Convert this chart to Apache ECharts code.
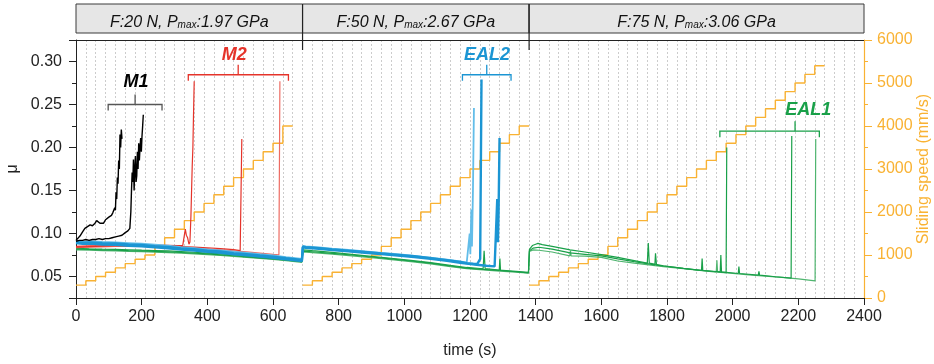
<!DOCTYPE html>
<html><head><meta charset="utf-8">
<script src="https://cdn.jsdelivr.net/npm/echarts@6/dist/echarts.min.js"></script>
<style>html,body{margin:0;padding:0;background:#fff}#c{width:934px;height:364px}</style>
</head><body><div id="c"></div>
<script>
const FONT = 'Liberation Sans';

// ---- header (load stages) ----
const headerStart = [0, 690, 1380];
const headerEnd = [690, 1380, 2400];
const headerForce = ['20', '50', '75'];
const headerPmax = ['1.97', '2.67', '3.06'];

// ---- sliding speed staircase (mm/s) ----
const speedTimes1 = [0,30,60,90,120,150,180,210,240,270,300,330,360,390,420,450,480,510,540,570,600,630,660];
const speedLevels1 = [300,400,500,600,700,800,900,1000,1200,1400,1600,1800,2000,2200,2400,2600,2800,3000,3200,3400,3600,4000];
const speedTimes2 = [690,720,750,780,810,840,870,900,930,960,990,1020,1050,1080,1110,1140,1170,1200,1230,1260,1290,1320,1350,1380];
const speedLevels2 = [300,400,500,600,700,800,900,1000,1200,1400,1600,1800,2000,2200,2400,2600,2800,3000,3200,3400,3600,3800,4000];
const speedTimes3 = [1380,1410,1440,1470,1500,1530,1560,1590,1620,1650,1680,1710,1740,1770,1800,1830,1860,1890,1920,1950,1980,2010,2040,2070,2100,2130,2160,2190,2220,2250,2280];
const speedLevels3 = [300,400,500,600,700,800,900,1000,1200,1400,1600,1800,2000,2200,2400,2600,2800,3000,3200,3400,3600,3800,4000,4200,4400,4600,4800,5000,5200,5400];

// ---- friction coefficient runs ----
// M1 (black)
const m1aTime = [0,5,12,20,27,35,43,50,58,63,68,73,78,84,90,95,100,104,108,112,115,118,120,122,124,126,128,130,132,134,136,138,140];
const m1aMu = [0.092,0.093,0.097,0.102,0.106,0.108,0.110,0.109,0.112,0.115,0.113,0.112,0.113,0.112,0.116,0.117,0.119,0.118,0.121,0.124,0.122,0.130,0.127,0.148,0.140,0.165,0.158,0.185,0.175,0.215,0.200,0.221,0.210];
const m1bTime = [0,10,20,30,40,50,60,70,80,90,100,110,120,130,140,150,158,164,167,169,171,173,175,177,179,181,183,185,187,189,191,193,195,197,199,201,203,205];
const m1bMu = [0.091,0.092,0.092,0.093,0.092,0.093,0.093,0.094,0.093,0.094,0.094,0.095,0.096,0.097,0.098,0.101,0.103,0.106,0.125,0.150,0.171,0.160,0.186,0.150,0.175,0.190,0.160,0.167,0.195,0.175,0.205,0.185,0.200,0.211,0.195,0.213,0.225,0.238];
// M2 (red)
const m2aTime = [0,40,80,120,160,200,240,280,310,325,330,333,336,340,344,347,350,352,354,356,358,360];
const m2aMu = [0.0850,0.0855,0.0860,0.0866,0.0868,0.0866,0.0865,0.0863,0.0860,0.0858,0.0880,0.1050,0.0980,0.0950,0.0875,0.0900,0.1200,0.1500,0.1790,0.2000,0.2400,0.2770];
const m2bTime = [0,40,80,120,160,200,240,280,320,360,400,440,480,500,504,505];
const m2bMu = [0.0842,0.0848,0.0853,0.0858,0.0860,0.0858,0.0856,0.0853,0.0848,0.0842,0.0834,0.0825,0.0812,0.0800,0.0798,0.2100];
const m2cTime = [0,40,80,120,160,200,240,280,320,360,400,440,480,520,560,600,618,621];
const m2cMu = [0.0835,0.0840,0.0845,0.0850,0.0852,0.0850,0.0847,0.0843,0.0838,0.0830,0.0822,0.0810,0.0798,0.0786,0.0772,0.0758,0.0752,0.2770];
// EAL2 (blue)
const eal2aTime = [0,20,45,80,120,160,200,240,280,320,360,400,440,480,520,560,600,640,688,691,700,740,780,830,880,930,980,1030,1080,1130,1170,1190,1196,1199,1201,1204,1206,1209,1212];
const eal2aMu = [0.0918,0.0905,0.0910,0.0902,0.0896,0.0889,0.0881,0.0870,0.0858,0.0842,0.0830,0.0815,0.0803,0.0789,0.0774,0.0759,0.0745,0.0726,0.0706,0.0855,0.0850,0.0838,0.0823,0.0808,0.0791,0.0775,0.0759,0.0741,0.0720,0.0697,0.0675,0.0662,0.0680,0.1000,0.0760,0.1280,0.0850,0.1500,0.2460];
const eal2bTime = [0,20,45,80,120,160,200,240,280,320,360,400,440,480,520,560,600,640,688,691,700,740,780,830,880,930,980,1030,1080,1130,1170,1190,1210,1222,1228,1231,1233,1235];
const eal2bMu = [0.0902,0.0893,0.0897,0.0886,0.0884,0.0872,0.0868,0.0853,0.0845,0.0826,0.0818,0.0800,0.0791,0.0772,0.0760,0.0745,0.0731,0.0713,0.0692,0.0846,0.0842,0.0830,0.0816,0.0800,0.0785,0.0768,0.0752,0.0735,0.0714,0.0690,0.0668,0.0655,0.0648,0.0645,0.0660,0.0705,0.0690,0.2790];
const eal2cTime = [0,20,45,80,120,160,200,240,280,320,360,400,440,480,520,560,600,640,688,691,700,740,780,830,880,930,980,1030,1080,1130,1170,1190,1220,1250,1275,1281,1283,1285,1287,1290];
const eal2cMu = [0.0888,0.0880,0.0884,0.0871,0.0870,0.0858,0.0852,0.0840,0.0829,0.0812,0.0803,0.0786,0.0776,0.0759,0.0747,0.0732,0.0716,0.0700,0.0680,0.0838,0.0834,0.0822,0.0808,0.0792,0.0776,0.0760,0.0744,0.0726,0.0706,0.0682,0.0660,0.0650,0.0636,0.0625,0.0618,0.0620,0.1400,0.0900,0.1250,0.2110];
// EAL1 (green)
const eal1aTime = [0,40,80,120,160,200,240,280,320,360,400,440,480,520,560,600,640,688,
  691,720,780,840,900,960,1020,1080,1140,1190,1240,1243,1246,1290,1340,1378,
  1381,1390,1400,1407,1420,1450,1505,1550,1600,1650,1700,1740,1743,1746,1789,1850,1905,1950,1980,1982];
const eal1aMu = [0.0828,0.0822,0.0818,0.0815,0.0811,0.0806,0.0802,0.0797,0.0790,0.0782,0.0772,0.0762,0.0750,0.0738,0.0725,0.0712,0.0698,0.0680,
  0.0810,0.0800,0.0780,0.0758,0.0735,0.0712,0.0688,0.0662,0.0630,0.0605,0.0590,0.0800,0.0592,0.0575,0.0560,0.0548,
  0.0815,0.0860,0.0875,0.0885,0.0870,0.0850,0.0810,0.0785,0.0755,0.0722,0.0685,0.0655,0.0890,0.0655,0.0625,0.0595,0.0572,0.0555,0.0545,0.2000];
const eal1bTime = [0,40,80,120,160,200,240,280,320,360,400,440,480,520,560,600,640,688,
  691,720,780,840,900,960,1020,1080,1140,1190,1240,1289,1291,1293,1340,1378,
  1381,1392,1410,1450,1505,1550,1600,1650,1700,1763,1765,1768,1789,1850,1905,1907,1909,1962,1964,1966,2017,2019,2021,2078,2080,2082,2130,2178,2180];
const eal1bMu = [0.0818,0.0815,0.0810,0.0806,0.0801,0.0797,0.0792,0.0786,0.0779,0.0771,0.0762,0.0752,0.0741,0.0729,0.0717,0.0705,0.0690,0.0672,
  0.0795,0.0788,0.0770,0.0750,0.0727,0.0705,0.0680,0.0655,0.0622,0.0598,0.0582,0.0570,0.0710,0.0570,0.0555,0.0542,
  0.0800,0.0830,0.0840,0.0818,0.0775,0.0758,0.0740,0.0705,0.0672,0.0635,0.0770,0.0633,0.0622,0.0594,0.0570,0.0710,0.0570,0.0555,0.0750,0.0554,0.0535,0.0615,0.0535,0.0515,0.0560,0.0515,0.0497,0.0480,0.2134];
const eal1cTime = [0,40,80,120,160,200,240,280,320,360,400,440,480,520,560,600,640,688,
  691,720,780,840,900,960,1020,1080,1140,1190,1240,1290,1340,1378,
  1381,1392,1410,1450,1504,1506,1508,1550,1600,1650,1700,1789,1850,1950,1952,1954,1992,2050,2100,2150,2200,2251,2253];
const eal1cMu = [0.0810,0.0805,0.0801,0.0797,0.0793,0.0789,0.0784,0.0778,0.0771,0.0763,0.0755,0.0745,0.0734,0.0722,0.0710,0.0698,0.0684,0.0665,
  0.0785,0.0778,0.0760,0.0740,0.0718,0.0696,0.0672,0.0647,0.0615,0.0592,0.0576,0.0563,0.0550,0.0538,
  0.0790,0.0810,0.0805,0.0785,0.0740,0.0800,0.0740,0.0738,0.0722,0.0680,0.0655,0.0615,0.0590,0.0552,0.0690,0.0552,0.0540,0.0520,0.0505,0.0490,0.0473,0.0450,0.2100];

// ---- annotation brackets ----
const bracketLabels = ['M1', 'M2', 'EAL2', 'EAL1'];
const bracketStart = [98, 342, 1177, 1961];
const bracketEnd = [262, 647, 1325, 2264];
const bracketMid = [180, 494, 1251, 2190];
const bracketLevel = [0.250, 0.2846, 0.2846, 0.219];
const labelTime = [183, 482, 1252, 2230];
const labelMu = [0.276, 0.3077, 0.3077, 0.243];

const COL = {
  black: '#000000', red: '#E5332A', redL: '#EE6B62',
  blue: '#1B95D3', blueL: '#62BDE9', green: '#19A049', greenL: '#4FB56F',
  orange: '#F9B233', bracketGray: '#555555'
};
const bracketColor = [COL.bracketGray, COL.red, COL.blue, COL.green];
const labelColor = [COL.black, COL.red, COL.blue, COL.green];

function zip(t, v) { return t.map((x, i) => [x, v[i]]); }
function stair(t, lv) { return t.map((x, i) => [x, lv[Math.min(i, lv.length - 1)]]); }

function muLine(name, t, v, color, width) {
  return { name, type: 'line', xAxisIndex: 0, yAxisIndex: 0, data: zip(t, v),
    showSymbol: false, symbol: 'none', lineStyle: { color, width }, itemStyle: { color },
    animation: false, silent: true };
}
function speedLine(t, lv) {
  return { type: 'line', xAxisIndex: 0, yAxisIndex: 1, data: stair(t, lv), step: 'end',
    showSymbol: false, symbol: 'none', lineStyle: { color: COL.orange, width: 1.4 },
    animation: false, silent: true, z: 1 };
}

const chart = echarts.init(document.getElementById('c'), null, { renderer: 'canvas' });
chart.setOption({
  animation: false,
  backgroundColor: '#ffffff',
  textStyle: { fontFamily: FONT },
  grid: [
    { left: 76, right: 70, top: 40, bottom: 66, containLabel: false, outerBoundsMode: 'none' },
    { left: 76, right: 70, top: 4, height: 29, containLabel: false, outerBoundsMode: 'none' }
  ],
  xAxis: [
    { type: 'value', gridIndex: 0, min: 0, max: 2400, interval: 200, position: 'bottom',
      axisLine: { show: true, onZero: false, lineStyle: { color: '#222', width: 1 } },
      axisTick: { show: true, length: 7, inside: false, lineStyle: { color: '#222' } },
      axisLabel: { fontSize: 16, color: '#222', margin: 11, fontFamily: FONT, formatter: v => String(v) },
      splitLine: { show: false },
      name: 'time (s)', nameLocation: 'middle', nameGap: 45,
      nameTextStyle: { fontSize: 16, color: '#222', fontFamily: FONT } },
    { type: 'value', gridIndex: 0, min: 0, max: 2400, interval: 30, position: 'top',
      axisLine: { show: true, onZero: false, lineStyle: { color: '#222', width: 1 } },
      axisTick: { show: false }, axisLabel: { show: false },
      splitLine: { show: true, lineStyle: { color: '#CCCCCC', width: 1, type: [2, 2] } } },
    { type: 'value', gridIndex: 1, min: 0, max: 2400, show: false }
  ],
  yAxis: [
    { type: 'value', gridIndex: 0, min: 0.025, max: 0.325, splitNumber: 6, position: 'left',
      axisLine: { show: true, onZero: false, lineStyle: { color: '#222', width: 1 } },
      axisTick: { show: true, length: 7, lineStyle: { color: '#222' } },
      minorTick: { show: true, splitNumber: 2, length: 4, lineStyle: { color: '#222' } },
      axisLabel: { fontSize: 16, color: '#222', margin: 14, fontFamily: FONT,
        formatter: v => (Math.abs(v - 0.025) < 1e-9 || Math.abs(v - 0.325) < 1e-9) ? '' : v.toFixed(2) },
      splitLine: { show: false },
      name: 'μ', nameLocation: 'middle', nameGap: 55, nameRotate: 90, nameMoveOverlap: false,
      nameTextStyle: { fontSize: 16, color: '#222', fontFamily: FONT } },
    { type: 'value', gridIndex: 0, min: 0, max: 6000, interval: 1000, position: 'right',
      axisLine: { show: true, onZero: false, lineStyle: { color: COL.orange, width: 1.2 } },
      axisTick: { show: true, length: 8, lineStyle: { color: COL.orange } },
      minorTick: { show: true, splitNumber: 2, length: 4, lineStyle: { color: COL.orange } },
      axisLabel: { fontSize: 16, color: COL.orange, margin: 13, fontFamily: FONT, formatter: v => String(v) },
      splitLine: { show: false },
      name: 'Sliding speed (mm/s)', nameLocation: 'middle', nameGap: 52, nameRotate: 90, nameMoveOverlap: false,
      nameTextStyle: { fontSize: 16, color: COL.orange, fontFamily: FONT } },
    { type: 'value', gridIndex: 1, min: 0, max: 1, show: false }
  ],
  series: [
    speedLine(speedTimes1, speedLevels1),
    speedLine(speedTimes2, speedLevels2),
    speedLine(speedTimes3, speedLevels3),
    muLine('EAL1 c', eal1cTime, eal1cMu, COL.greenL, 1.2),
    muLine('EAL1 b', eal1bTime, eal1bMu, COL.green, 1.2),
    muLine('EAL1 a', eal1aTime, eal1aMu, COL.green, 1.2),
    muLine('M2 c', m2cTime, m2cMu, COL.redL, 1.2),
    muLine('M2 b', m2bTime, m2bMu, COL.red, 1.2),
    muLine('M2 a', m2aTime, m2aMu, COL.red, 1.2),
    muLine('EAL2 a', eal2aTime, eal2aMu, COL.blueL, 1.8),
    muLine('EAL2 c', eal2cTime, eal2cMu, COL.blue, 2.4),
    muLine('EAL2 b', eal2bTime, eal2bMu, COL.blue, 2.4),
    muLine('M1 b', m1bTime, m1bMu, COL.black, 1.4),
    muLine('M1 a', m1aTime, m1aMu, COL.black, 1.4),
    {
      type: 'custom', xAxisIndex: 0, yAxisIndex: 0, clip: false, z: 10, silent: true,
      data: bracketLabels.map((_, i) => [bracketStart[i], bracketLevel[i]]),
      renderItem: function (params, api) {
        const i = params.dataIndex;
        const a = api.coord([bracketStart[i], bracketLevel[i]]);
        const b = api.coord([bracketEnd[i], bracketLevel[i]]);
        const m = api.coord([bracketMid[i], bracketLevel[i]]);
        const l = api.coord([labelTime[i], labelMu[i]]);
        const c = bracketColor[i];
        return { type: 'group', children: [
          { type: 'polyline', shape: { points: [[a[0], a[1] + 6], [a[0], a[1]], [b[0], b[1]], [b[0], b[1] + 6]] },
            style: { stroke: c, lineWidth: 1.3, fill: null } },
          { type: 'line', shape: { x1: m[0], y1: m[1], x2: m[0], y2: m[1] - 10 },
            style: { stroke: c, lineWidth: 1.3 } },
          { type: 'text', style: { x: l[0], y: l[1], text: bracketLabels[i], fill: labelColor[i],
            fontSize: 18, fontWeight: 'bold', fontStyle: 'italic', fontFamily: FONT,
            align: 'center', verticalAlign: 'middle' } }
        ] };
      }
    },
    {
      type: 'custom', xAxisIndex: 2, yAxisIndex: 2, clip: false, z: 10, silent: true,
      data: headerStart.map((s, i) => [s, 0]),
      renderItem: function (params, api) {
        const i = params.dataIndex;
        const p0 = api.coord([headerStart[i], 1]);
        const p1 = api.coord([headerEnd[i], 0]);
        const children = [
          { type: 'rect', shape: { x: p0[0], y: p0[1], width: p1[0] - p0[0], height: p1[1] - p0[1] },
            style: { fill: '#E6E6E6', stroke: '#3A3A3A', lineWidth: 1 } },
          { type: 'text', style: {
              x: (p0[0] + p1[0]) / 2, y: (p0[1] + p1[1]) / 2 + 2,
              text: '{a|F:' + headerForce[i] + ' N, P}{s|max}{a|:' + headerPmax[i] + ' GPa}',
              align: 'center', verticalAlign: 'middle',
              rich: {
                a: { fontSize: 16, fontStyle: 'italic', fontFamily: FONT, fill: '#111', lineHeight: 20, verticalAlign: 'bottom' },
                s: { fontSize: 10, fontStyle: 'italic', fontFamily: FONT, fill: '#111', lineHeight: 8, verticalAlign: 'bottom' }
              } } }
        ];
        if (i > 0) {
          children.push({ type: 'line', shape: { x1: p0[0], y1: p0[1], x2: p0[0], y2: p1[1] + 17 },
            style: { stroke: '#222', lineWidth: 1.2 } });
        }
        return { type: 'group', children };
      }
    }
  ]
});
</script></body></html>
